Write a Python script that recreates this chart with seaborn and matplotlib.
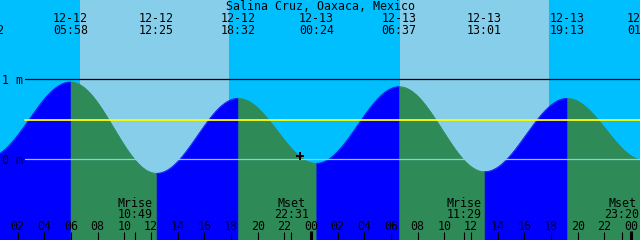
import numpy as np
import pandas as pd
import matplotlib
matplotlib.use("Agg")
import matplotlib.pyplot as plt
from matplotlib.transforms import blended_transform_factory
import seaborn as sns

# ---------------- data ----------------
title = "Salina Cruz, Oaxaca, Mexico"

# tide extremes (day of December, local time, height in m)
event_days = [11, 12, 12, 12, 13, 13, 13, 13, 14]
event_times = ["23:42", "05:58", "12:25", "18:32", "00:24", "06:37", "13:01", "19:13", "01:00"]
event_heights = [0.02, 0.966, -0.175, 0.762, -0.05, 0.908, -0.155, 0.762, -0.01]
event_dates = ["", "12-12", "12-12", "12-12", "12-13", "12-13", "12-13", "12-13", "12-14"]

# sun
sun_days = [12, 13]
sunrise_times = ["06:40", "06:40"]
sunset_times = ["17:51", "17:51"]

# moon
moon_days = [12, 12, 13, 13]
moon_names = ["Mrise", "Mset", "Mrise", "Mset"]
moon_times = ["10:49", "22:31", "11:29", "23:20"]

# hour axis
tick_hours = [2, 4, 6, 8, 10, 12, 14, 16, 18, 20, 22, 24,
              26, 28, 30, 32, 34, 36, 38, 40, 42, 44, 46, 48]
tick_labels = ["02", "04", "06", "08", "10", "12", "14", "16", "18", "20", "22", "00",
               "02", "04", "06", "08", "10", "12", "14", "16", "18", "20", "22", "00"]
midnight_hours = [24, 48]

level_values = [1.0, 0.0]
level_labels = ["1 m", "0 m"]
mean_level = 0.49

now_day = 12
now_time = "23:10"
now_height = 0.035

# ---------------- helpers ----------------
def hrs(day, hm):
    h, m = map(int, hm.split(":"))
    return (day - 12) * 24 + h + m / 60.0

W, H = 640, 240
X0, X1 = 0.675, 48.675
Y0, Y1 = -1.009, 1.991

NIGHT = "#00BFFF"
DAY = "#87CEEB"
RISE = "#0000FF"
FALL = "#2E8B57"

sns.set_style("white")
plt.rcParams["font.family"] = ["DejaVu Sans Mono", "DejaVu Sans"]
FS = 8.35

fig = plt.figure(figsize=(6.4, 2.4), dpi=100)
ax = fig.add_axes([0, 0, 1, 1])
ax.set_xlim(X0, X1)
ax.set_ylim(Y0, Y1)
ax.set_axis_off()
ax.add_patch(plt.Rectangle((0, 0), 1, 1, transform=ax.transAxes, color=NIGHT, zorder=0))

for d, r, s in zip(sun_days, sunrise_times, sunset_times):
    ax.axvspan(hrs(d, r), hrs(d, s), color=DAY, lw=0, zorder=1)

ev_t = [hrs(d, t) for d, t in zip(event_days, event_times)]

# tide curve between extremes
rows = []
for i in range(len(ev_t) - 1):
    t0, t1 = ev_t[i], ev_t[i + 1]
    h0, h1 = event_heights[i], event_heights[i + 1]
    tt = np.linspace(t0, t1, 300)
    hh = h0 + (h1 - h0) * (1 - np.cos(np.pi * (tt - t0) / (t1 - t0))) / 2
    col = RISE if h1 > h0 else FALL
    ax.fill_between(tt, hh, Y0 - 1, color=col, lw=0.4, edgecolor=col, zorder=2)
    for a, b in zip(tt, hh):
        rows.append((a, b, i))
curve = pd.DataFrame(rows, columns=["t", "h", "seg"])
pal = {i: (RISE if event_heights[i + 1] > event_heights[i] else FALL) for i in range(len(ev_t) - 1)}
sns.lineplot(data=curve, x="t", y="h", hue="seg", palette=pal, lw=0.5, legend=False,
             ax=ax, zorder=3, sort=False, estimator=None)
ax.set_xlim(X0, X1)
ax.set_ylim(Y0, Y1)
ax.set_axis_off()

# level lines
ax.axhline(level_values[0], xmin=25 / W, xmax=1, color="black", lw=0.9, zorder=4)
ax.axhline(level_values[1], xmin=25 / W, xmax=1, color=DAY, lw=0.9, zorder=4)
ax.axhline(mean_level, xmin=25 / W, xmax=1, color="#FFFF00", lw=1.3, zorder=4)

def fy(p):
    return 1 - p / H

for v, lab, base in zip(level_values, level_labels, [83.5, 163.5]):
    ax.text(1.5 / W, fy(base), lab, transform=ax.transAxes, ha="left", va="baseline",
            fontsize=FS, color="black", zorder=6)

tr = blended_transform_factory(ax.transData, ax.transAxes)

# title
ax.text(0.5, fy(10), title, transform=ax.transAxes, ha="center", va="baseline",
        fontsize=FS, color="black", zorder=6)

# tide labels
for t, dlab, tlab in zip(ev_t, event_dates, event_times):
    if dlab:
        ax.text(t, fy(22), dlab, transform=tr, ha="center", va="baseline", fontsize=FS,
                color="black", zorder=6, clip_on=False)
    ax.text(t, fy(34.5), tlab, transform=tr, ha="center", va="baseline", fontsize=FS,
            color="black", zorder=6, clip_on=False)

# moon labels and ticks
for d, name, tm in zip(moon_days, moon_names, moon_times):
    t = hrs(d, tm)
    ax.text(t, fy(207), name, transform=tr, ha="center", va="baseline", fontsize=FS,
            color="black", zorder=6)
    ax.text(t, fy(218), tm, transform=tr, ha="center", va="baseline", fontsize=FS,
            color="black", zorder=6)
    ax.vlines(t, 0, 8 / H, transform=tr, color="black", lw=0.8, zorder=5)

# hour ticks
for hr, lab in zip(tick_hours, tick_labels):
    ax.text(hr, fy(230), lab, transform=tr, ha="center", va="baseline", fontsize=FS,
            color="black", zorder=6, clip_on=False)
    if hr in midnight_hours:
        ax.vlines(hr, 0, 9 / H, transform=tr, color="black", lw=2.2, zorder=5)
    else:
        ax.vlines(hr, 0, 8 / H, transform=tr, color="black", lw=0.8, zorder=5)

# current-time marker
ax.plot([hrs(now_day, now_time)], [now_height], marker="+", ms=5.5, mew=1.4,
        color="black", zorder=7, ls="none")

fig.savefig("out.png", dpi=100)
